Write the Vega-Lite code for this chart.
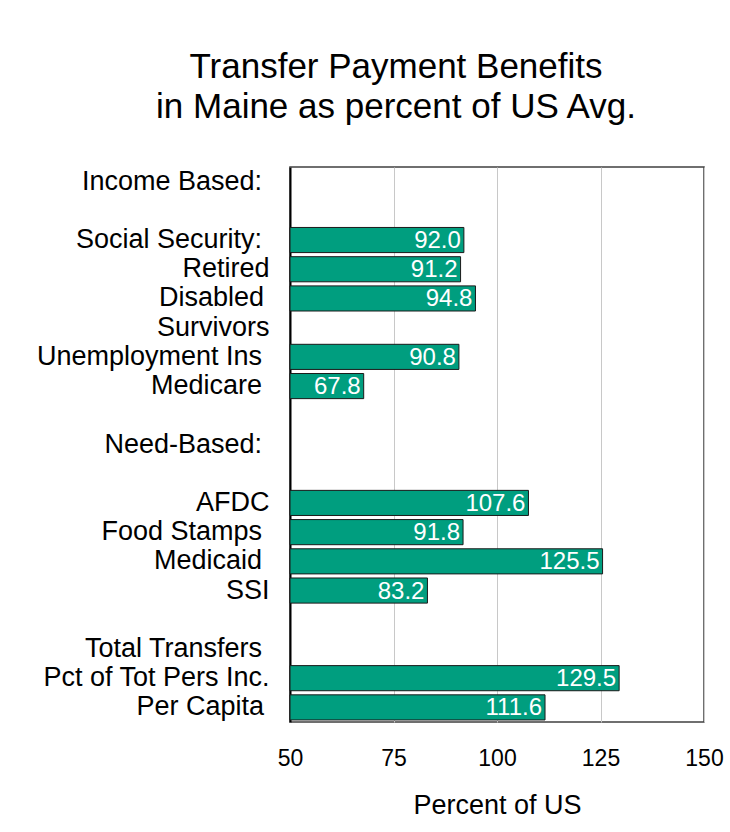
{
  "$schema": "https://vega.github.io/schema/vega-lite/v6.json",
  "autosize": {"type": "none"},
  "width": 414,
  "height": 555,
  "padding": {"left": 290, "top": 167, "right": 26, "bottom": 110},
  "background": "white",
  "title": {
    "text": ["Transfer Payment Benefits", "in Maine as percent of US Avg."],
    "font": "Liberation Sans",
    "fontSize": 35,
    "fontWeight": "normal",
    "color": "black",
    "anchor": "middle",
    "frame": "group",
    "dx": -101,
    "lineHeight": 40,
    "baseline": "alphabetic",
    "offset": 14
  },
  "config": {
    "view": {"stroke": "#404040", "strokeWidth": 1.5},
    "font": "Liberation Sans"
  },
  "data": {
    "values": [
      {"label": "Income Based:\u00a0\u200b", "value": null},
      {"label": "blank1", "value": null},
      {"label": "Social Security:\u00a0\u200b", "value": 92.0},
      {"label": "Retired", "value": 91.2},
      {"label": "Disabled\u2009\u200b", "value": 94.8},
      {"label": "Survivors", "value": null},
      {"label": "Unemployment Ins\u00a0\u200b", "value": 90.8},
      {"label": "Medicare\u00a0\u200b", "value": 67.8},
      {"label": "blank2", "value": null},
      {"label": "Need-Based:\u00a0\u200b", "value": null},
      {"label": "blank3", "value": null},
      {"label": "AFDC", "value": 107.6},
      {"label": "Food Stamps\u00a0\u200b", "value": 91.8},
      {"label": "Medicaid\u00a0\u200b", "value": 125.5},
      {"label": "SSI", "value": 83.2},
      {"label": "blank4", "value": null},
      {"label": "Total Transfers\u00a0\u200b", "value": null},
      {"label": "Pct of Tot Pers Inc.", "value": 129.5},
      {"label": "Per Capita\u2009\u200b", "value": 111.6}
    ]
  },
  "encoding": {
    "y": {
      "field": "label",
      "type": "nominal",
      "sort": null,
      "scale": {
        "domain": ["Income Based:\u00a0\u200b", "blank1", "Social Security:\u00a0\u200b", "Retired", "Disabled\u2009\u200b", "Survivors", "Unemployment Ins\u00a0\u200b", "Medicare\u00a0\u200b", "blank2", "Need-Based:\u00a0\u200b", "blank3", "AFDC", "Food Stamps\u00a0\u200b", "Medicaid\u00a0\u200b", "SSI", "blank4", "Total Transfers\u00a0\u200b", "Pct of Tot Pers Inc.", "Per Capita\u2009\u200b"],
        "paddingInner": 0.14,
        "paddingOuter": 0.07
      },
      "axis": {
        "title": null,
        "labelExpr": "indexof(datum.value,'blank')==0 ? '' : datum.label",
        "labelFontSize": 27,
        "labelFont": "Liberation Sans",
        "labelColor": "black",
        "labelPadding": 21,
        "labelLimit": 0,
        "ticks": false,
        "domain": true,
        "domainColor": "black",
        "domainWidth": 2,
        "grid": false
      }
    }
  },
  "layer": [
    {
      "mark": {"type": "bar", "color": "#009E7F", "stroke": "#1a1a1a", "strokeWidth": 1},
      "encoding": {
        "x": {
          "field": "value",
          "type": "quantitative",
          "scale": {"domain": [50, 150], "zero": false, "nice": false},
          "axis": {
            "values": [50, 75, 100, 125, 150],
            "grid": true,
            "gridColor": "#c8c8c8",
            "gridWidth": 1,
            "ticks": false,
            "domain": false,
            "labelFontSize": 23,
            "labelFont": "Liberation Sans",
            "labelColor": "black",
            "labelPadding": 25,
            "labelFlush": false,
            "title": "Percent of US",
            "titleFont": "Liberation Sans",
            "titleFontSize": 27,
            "titleFontWeight": "normal",
            "titleColor": "black",
            "titlePadding": 22
          }
        },
        "x2": {"datum": 50}
      }
    },
    {
      "mark": {"type": "text", "align": "right", "baseline": "middle", "dx": -3, "dy": 1, "color": "white", "fontSize": 24, "font": "Liberation Sans"},
      "encoding": {
        "x": {"field": "value", "type": "quantitative"},
        "text": {"field": "value", "type": "quantitative", "format": ".1f"}
      }
    }
  ]
}
